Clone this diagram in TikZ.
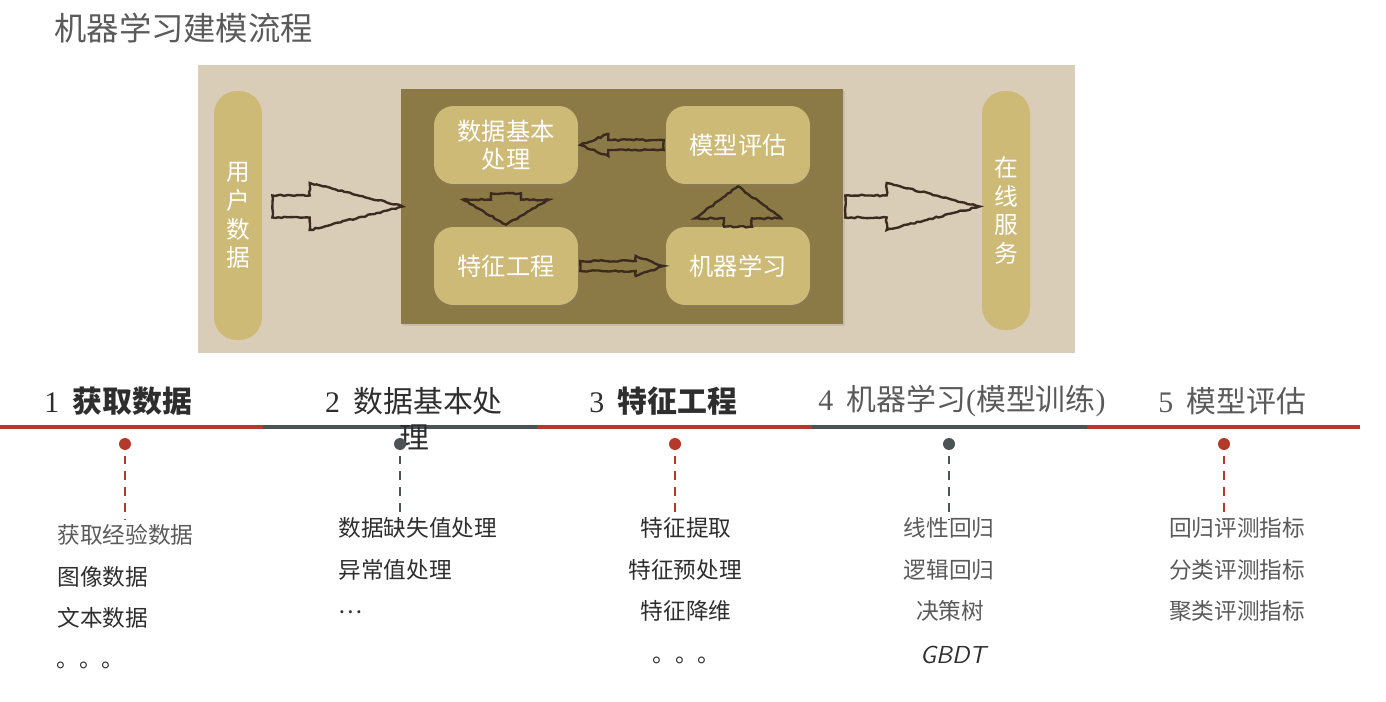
\documentclass[tikz,border=0pt]{standalone}
\usepackage{fontspec}
\setmainfont{Noto Sans CJK SC}
\newfontfamily\numfont{Liberation Serif}
\usetikzlibrary{calc,decorations.pathmorphing,shadows}

\definecolor{paper}{HTML}{D9CDB7}
\definecolor{olive}{HTML}{8C7A46}
\definecolor{straw}{HTML}{CDBA76}
\definecolor{ink}{HTML}{3B2A1F}
\definecolor{tlred}{HTML}{B5392A}
\definecolor{tlgray}{HTML}{4B5354}
\definecolor{txtdark}{HTML}{2E2E2E}
\definecolor{txtgray}{HTML}{5A5A5A}

% hollow block arrows: tail, tip, shaft half, head half, head length
\newcommand\harrow[5]{%
  \draw[roughline] ($(#1)+(0,#3)$) -- ($(#2)+({-(#5)},#3)$) -- ($(#2)+({-(#5)},#4)$) -- (#2)
    -- ($(#2)+({-(#5)},{-(#4)})$) -- ($(#2)+({-(#5)},{-(#3)})$) -- ($(#1)+(0,{-(#3)})$) -- cycle;}
\newcommand\varrow[5]{%
  \draw[roughline] ($(#1)+(#3,0)$) -- ($(#2)+(#3,{-(#5)})$) -- ($(#2)+(#4,{-(#5)})$) -- (#2)
    -- ($(#2)+({-(#4)},{-(#5)})$) -- ($(#2)+({-(#3)},{-(#5)})$) -- ($(#1)+({-(#3)},0)$) -- cycle;}

\begin{document}
\begin{tikzpicture}[x=0.02cm,y=-0.02cm,
  pill/.style={fill=straw, rounded corners=13pt, minimum width=0.96cm, text=white, align=center,
    inner sep=0pt, font=\fontsize{13.5}{16.4}\selectfont},
  stepbox/.style={fill=straw, rounded corners=11pt, minimum width=2.88cm, minimum height=1.56cm,
    text=white, align=center, font=\fontsize{13.8}{15.9}\selectfont,
    drop shadow={opacity=0.25, shadow xshift=1pt, shadow yshift=-1pt}},
  roughline/.style={draw=ink, line width=1.35pt, decorate,
    decoration={random steps, segment length=1.8pt, amplitude=0.45pt}},
  head/.style={inner sep=0pt, font=\fontsize{17}{20.4}\selectfont},
  item/.style={inner sep=0pt, font=\fontsize{12.9}{15}\selectfont},
  dot/.style={circle, inner sep=0pt, minimum size=0.24cm},
  stem/.style={dash pattern=on 5pt off 4pt, line width=0.9pt, shorten <=3pt},
]
\useasboundingbox (0,0) rectangle (1386,702);

\node[anchor=west, inner sep=0pt, text=txtgray, font=\fontsize{18.4}{22}\selectfont] (title) at (54,28) {机器学习建模流程};

\node[fill=paper, minimum width=17.54cm, minimum height=5.76cm, inner sep=0pt] (panel) at (636.5,209) {};
\node[fill=olive, minimum width=8.84cm, minimum height=4.7cm, inner sep=0pt,
  drop shadow={opacity=0.2, shadow xshift=1pt, shadow yshift=-1pt}] (core) at (622,206.5) {};

\node[pill, minimum height=4.98cm] (user) at (238,215.5) {用\\户\\数\\据};
\node[pill, minimum height=4.78cm] (serve) at (1006,210.5) {在\\线\\服\\务};

\node[stepbox] (prep) at (506,145) {数据基本\\处理};
\node[stepbox] (eval) at (738,145) {模型评估};
\node[stepbox] (feat) at (506,266) {特征工程};
\node[stepbox] (ml) at (738,266) {机器学习};

\coordinate (inTail) at ($(user.east |- core.west)+(10,0)$);
\coordinate (inTip) at ($(core.west)+(2,0)$);
\harrow{inTail}{inTip}{11}{23.5}{93}
\coordinate (outTail) at ($(core.east)+(2,0)$);
\coordinate (outTip) at ($(serve.west |- core.east)+(-2,0)$);
\harrow{outTail}{outTip}{11}{23.5}{93}

\coordinate (backTail) at ($(eval.west)+(-2,0)$);
\coordinate (backTip) at ($(prep.east)+(2,0)$);
\harrow{backTail}{backTip}{5}{11}{-28}
\coordinate (fwdTail) at ($(feat.east)+(2,0)$);
\coordinate (fwdTip) at ($(ml.west)+(-2,0)$);
\harrow{fwdTail}{fwdTip}{5}{10}{28}
\coordinate (downTail) at ($(prep.south)+(0,9)$);
\coordinate (downTip) at ($(feat.north)+(0,-2)$);
\varrow{downTail}{downTip}{15}{43}{25}
\coordinate (upTail) at (ml.north);
\coordinate (upTip) at ($(eval.south)+(0,2)$);
\varrow{upTail}{upTip}{14}{43}{-32}

% timeline
\coordinate (t0) at (0,427);
\coordinate (t1) at (263,427);
\coordinate (t2) at (537,427);
\coordinate (t3) at (812,427);
\coordinate (t4) at (1087,427);
\coordinate (t5) at (1360,427);
\draw[tlred, line width=2.3pt] (t0) -- (t1);
\draw[tlgray, line width=2.3pt] (t1) -- (t2);
\draw[tlred, line width=2.3pt] (t2) -- (t3);
\draw[tlgray, line width=2.3pt] (t3) -- (t4);
\draw[tlred, line width=2.3pt] (t4) -- (t5);

\node[head, anchor=west, text=txtdark] (h1) at (44,401) {{\numfont 1}\hspace{0.45em}{\bfseries 获取数据}};
\node[head, align=center, text=txtdark] (h2) at (414,419) {{\numfont 2}\hspace{0.45em}数据基本处\\理};
\node[head, anchor=west, text=txtdark] (h3) at (589,401) {{\numfont 3}\hspace{0.45em}{\bfseries 特征工程}};
\node[head, anchor=west, text=txtgray] (h4) at (818,401) {{\numfont 4}\hspace{0.45em}机器学习{\numfont (}模型训练{\numfont )}};
\node[head, anchor=west, text=txtgray] (h5) at (1158,401) {{\numfont 5}\hspace{0.45em}模型评估};

\node[dot, fill=tlred] (d1) at (125,444) {};
\node[dot, fill=tlgray] (d2) at (400,444) {};
\node[dot, fill=tlred] (d3) at (675,444) {};
\node[dot, fill=tlgray] (d4) at (949,444) {};
\node[dot, fill=tlred] (d5) at (1224,444) {};
\coordinate (e1) at (125,519);
\coordinate (e2) at (400,519);
\coordinate (e3) at (675,519);
\coordinate (e4) at (949,519);
\coordinate (e5) at (1224,519);
\draw[stem, tlred] (d1) -- (e1);
\draw[stem, tlgray] (d2) -- (e2);
\draw[stem, tlred] (d3) -- (e3);
\draw[stem, tlgray] (d4) -- (e4);
\draw[stem, tlred] (d5) -- (e5);

\node[item, anchor=west, text=txtgray] (a1) at (57,535) {获取经验数据};
\node[item, anchor=west, text=txtdark] (a2) at (57,577) {图像数据};
\node[item, anchor=west, text=txtdark] (a3) at (57,618) {文本数据};
\node[item, anchor=base west, text=txtdark] (a4) at (56,667) {。。。};

\node[item, anchor=west, text=txtdark] (b1) at (338,528) {数据缺失值处理};
\node[item, anchor=west, text=txtdark] (b2) at (338,570) {异常值处理};
\node[item, anchor=west, text=txtdark] (b3) at (338,612) {…};

\node[item, text=txtdark] (c1) at (686,528) {特征提取};
\node[item, text=txtdark] (c2) at (685,570) {特征预处理};
\node[item, text=txtdark] (c3) at (686,611) {特征降维};
\node[item, anchor=base west, text=txtdark] (c4) at (652,662) {。。。};

\node[item, text=txtgray] (m1) at (949,528) {线性回归};
\node[item, text=txtgray] (m2) at (949,570) {逻辑回归};
\node[item, text=txtgray] (m3) at (950,611) {决策树};
\node[item, text=txtdark, font=\fontsize{14}{16}\sffamily\itshape] (m4) at (953,655) {GBDT};

\node[item, text=txtgray] (s1) at (1237,528) {回归评测指标};
\node[item, text=txtgray] (s2) at (1237,570) {分类评测指标};
\node[item, text=txtgray] (s3) at (1237,611) {聚类评测指标};
\end{tikzpicture}
\end{document}
